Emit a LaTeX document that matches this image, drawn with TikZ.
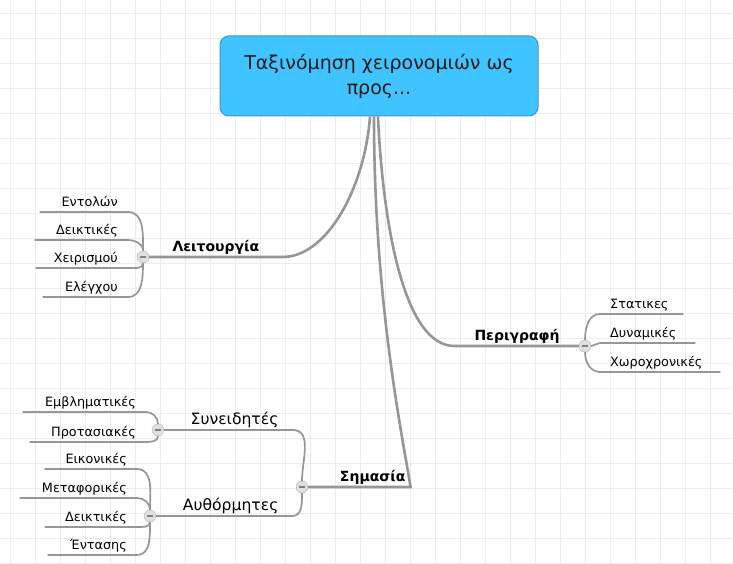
\documentclass[tikz,border=0pt]{standalone}
\usepackage{fontspec}
\setmainfont{DejaVu Sans}
\usetikzlibrary{positioning}
\definecolor{rootblue}{RGB}{64,196,255}
\definecolor{rootedge}{RGB}{56,148,226}
\definecolor{twiggray}{RGB}{150,150,150}
\definecolor{gridgray}{RGB}{236,236,236}
\tikzset{
    maproot/.style={draw=rootedge, fill=rootblue, rounded corners=9pt, line width=1pt, align=center, font=\fontsize{19}{25}\selectfont, text=black!90, minimum width=318pt, minimum height=80pt},
    mapbranch/.style={inner xsep=8pt, inner ysep=2pt, text depth=3pt, font=\bfseries\fontsize{14}{16}\selectfont, text=black},
    mapsub/.style={inner xsep=14pt, inner ysep=2pt, text depth=3pt, font=\fontsize{15.6}{17}\selectfont, text=black},
    mapleaf/.style={inner xsep=10pt, inner ysep=2pt, text depth=3pt, font=\fontsize{12.8}{14}\selectfont, text width=#1, text=black},
    mapfold/.style={circle, draw=black!30, fill=black!12, minimum size=12pt, inner sep=0pt,
        path picture={\draw[black!50, line width=1.1pt] ([xshift=-3pt]path picture bounding box.center) -- ([xshift=3pt]path picture bounding box.center);}},
    trunk/.style={draw=twiggray, line width=2.6pt},
    twig/.style={draw=twiggray, line width=1.7pt},
    gridline/.style={draw=gridgray, line width=0.8pt}
}

\begin{document}
\begin{tikzpicture}[x=1pt, y=1pt]
    \fill[white] (0,0) rectangle (733,563);
    \useasboundingbox (0,0) rectangle (733,563);
    \foreach \gx in {10,35,...,735} \draw[gridline] (\gx,0) -- (\gx,563);
    \foreach \gy in {0,25,...,550} \draw[gridline] (0,\gy) -- (733,\gy);

    \node[maproot] (root) at (379,487) {Ταξινόμηση χειρονομιών ως\\προς...};

    % Λειτουργία
    \node[mapfold] (leitfold) at (143,306) {};
    \node[mapbranch, anchor=south west, text width=117pt, align=center] (leit) at (leitfold.east) {Λειτουργία};
    \node[mapleaf=68pt, align=right, anchor=south east] (entol) at (128,351) {Εντολών};
    \node[mapleaf=73pt, align=right, anchor=south east] (deikt) at (128,323) {Δεικτικές};
    \node[mapleaf=72pt, align=right, anchor=south east] (xeiri) at (128,295) {Χειρισμού};
    \node[mapleaf=65pt, align=right, anchor=south east] (elegx) at (128,266) {Ελέγχου};

    % Περιγραφή
    \node[mapfold] (perfold) at (585,217) {};
    \node[mapbranch, anchor=south east, text width=86pt, align=right, inner xsep=19pt] (perig) at (perfold.west) {Περιγραφή};
    \node[mapleaf=63pt, align=left, anchor=south west] (stat) at (600,249) {Στατικες};
    \node[mapleaf=75pt, align=left, anchor=south west] (dyna) at (600,220) {Δυναμικές};
    \node[mapleaf=100pt, align=left, anchor=south west] (xoro) at (600,191) {Χωροχρονικές};

    % Σημασία
    \node[mapfold] (semfold) at (302,76) {};
    \node[mapbranch, anchor=south west, text width=92pt, align=right, inner xsep=5pt] (sem) at (semfold.east) {Σημασία};
    \node[mapfold] (synfold) at (158,133) {};
    \node[mapsub, anchor=south west, text width=100pt, align=right] (syn) at (synfold.east) {Συνειδητές};
    \node[mapfold] (aftfold) at (150,47) {};
    \node[mapsub, anchor=south west, text width=108pt, align=right] (aft) at (aftfold.east) {Αυθόρμητες};
    \node[mapleaf=103pt, align=right, anchor=south east] (embl) at (146,151) {Εμβληματικές};
    \node[mapleaf=96pt, align=right, anchor=south east] (prot) at (146,121) {Προτασιακές};
    \node[mapleaf=72pt, align=right, anchor=south east] (eikon) at (137,94) {Εικονικές};
    \node[mapleaf=97pt, align=right, anchor=south east] (metaf) at (137,65) {Μεταφορικές};
    \node[mapleaf=72pt, align=right, anchor=south east] (deikt2) at (137,36) {Δεικτικές};
    \node[mapleaf=69pt, align=right, anchor=south east] (entas) at (137,8) {Έντασης};

    % trunks from the root
    \draw[trunk] (leitfold.east) -- (leit.south east) .. controls +(45,0) and +(-5,-70) .. ([xshift=-9pt]root.south);
    \draw[trunk] (perfold.west) -- (perig.south west) .. controls +(-50,0) and +(5,-110) .. ([xshift=-1pt]root.south);
    \draw[trunk] (semfold.east) -- (sem.south east) .. controls +(-10,60) and +(0,-180) .. ([xshift=-5pt]root.south);

    % sub branches
    \draw[twig] (synfold.east) -- (syn.south east) to[out=0, in=90] (semfold.north);
    \draw[twig] (aftfold.east) -- (aft.south east) to[out=0, in=-90] (semfold.south);

    % leaves
    \draw[twig] (entol.south west) -- (entol.south east) to[out=0, in=90] (leitfold.north);
    \draw[twig] (deikt.south west) -- (deikt.south east) to[out=0, in=90] (leitfold.north);
    \draw[twig] (xeiri.south west) -- (xeiri.south east) to[out=0, in=-90] (leitfold.south);
    \draw[twig] (elegx.south west) -- (elegx.south east) to[out=0, in=-90] (leitfold.south);
    \draw[twig] (perfold.north) to[out=90, in=180] (stat.south west) -- (stat.south east);
    \draw[twig] (perfold.east) to[out=0, in=180] (dyna.south west) -- (dyna.south east);
    \draw[twig] (perfold.south) to[out=-90, in=180] (xoro.south west) -- (xoro.south east);
    \draw[twig] (embl.south west) -- (embl.south east) to[out=0, in=90] (synfold.north);
    \draw[twig] (prot.south west) -- (prot.south east) to[out=0, in=-90] (synfold.south);
    \draw[twig] (eikon.south west) -- (eikon.south east) to[out=0, in=90] (aftfold.north);
    \draw[twig] (metaf.south west) -- (metaf.south east) to[out=0, in=90] (aftfold.north);
    \draw[twig] (deikt2.south west) -- (deikt2.south east) to[out=0, in=-90] (aftfold.south);
    \draw[twig] (entas.south west) -- (entas.south east) to[out=0, in=-90] (aftfold.south);
\end{tikzpicture}
\end{document}
